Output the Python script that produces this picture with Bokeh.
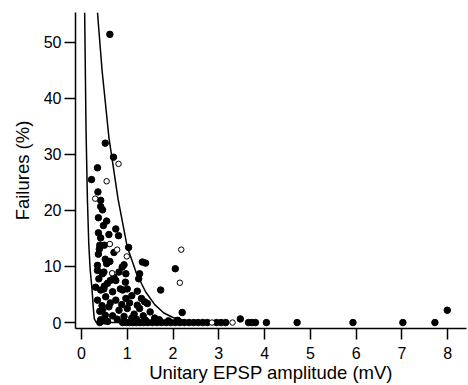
from bokeh.plotting import figure
from bokeh.models import Range1d, FixedTicker
from bokeh.embed import file_html
from bokeh.resources import INLINE

# Filled circles: EPSP amplitude (mV) vs failures (%)
filled_x = [0.62, 0.52, 0.70, 0.35, 0.22, 0.36, 0.42,
            0.42, 0.46, 0.37, 0.55, 0.48, 0.75, 0.37, 0.60, 0.81, 0.42, 0.40, 0.50, 0.39,
            0.71, 0.37, 0.62, 0.55, 0.35, 0.93,
            0.35, 0.46, 0.82, 0.97, 0.75, 0.57, 0.31, 0.42, 0.68, 0.90, 0.53, 0.35, 0.75,
            0.97, 0.60, 0.46, 0.82, 1.00, 0.68, 0.93, 0.42, 0.57,
            0.52, 0.56, 0.89, 0.49, 0.71, 0.63, 0.96, 0.49, 0.85, 0.38, 0.50, 0.63, 0.88,
            0.78, 0.40, 0.52, 0.45,
            1.03, 1.33, 1.40, 2.05, 1.27, 1.25, 1.73, 1.00, 1.22, 1.31, 1.38, 1.22, 1.44,
            1.27, 1.50, 2.20, 1.10, 1.15, 1.35, 1.60, 1.05, 1.20, 1.40, 1.70, 1.90, 2.10, 1.10,
            0.40, 0.50,
            0.90, 0.98, 1.05, 1.12, 1.20, 1.28, 1.36, 1.45, 1.55, 1.65, 1.75, 1.85, 1.95,
            2.05, 2.15, 2.25, 2.35, 2.45, 2.55, 2.65, 2.75, 2.95, 3.05, 3.15,
            3.47, 3.65, 3.72, 3.80, 4.04, 4.71, 5.93, 7.02, 7.72, 7.99]
filled_y = [51.4, 32.0, 29.5, 27.6, 25.5, 23.3, 21.8,
            20.7, 20.1, 18.7, 18.1, 17.3, 16.7, 16.0, 15.7, 15.5, 15.1, 13.8, 13.8, 13.1,
            12.5, 12.2, 10.9, 10.5, 10.2, 10.3,
            9.3, 8.7, 9.0, 8.7, 7.5, 7.0, 6.3, 5.8, 5.5, 5.8, 4.6, 4.0, 4.0,
            4.3, 2.8, 2.2, 2.2, 2.5, 1.2, 1.1, 0.5, 0.2,
            11.3, 10.7, 9.9, 9.0, 8.1, 7.5, 7.2, 6.0, 6.0, 7.8, 6.5, 3.5, 3.2,
            0.6, 2.0, 1.3, 3.0,
            13.4, 10.8, 10.6, 9.6, 8.7, 7.8, 5.8, 6.0, 5.6, 4.3, 3.7, 3.1, 3.4,
            2.5, 1.9, 1.8, 4.8, 1.5, 1.2, 0.8, 3.5, 0.6, 0.4, 0.5, 0.3, 0.4, 0.8,
            0.0, 0.3,
            0.0, 0.0, 0.0, 0.0, 0.0, 0.0, 0.0, 0.0, 0.0, 0.0, 0.0, 0.0, 0.0,
            0.0, 0.0, 0.0, 0.0, 0.0, 0.0, 0.0, 0.0, 0.0, 0.0, 0.0,
            0.65, 0.0, 0.0, 0.0, 0.0, 0.0, 0.0, 0.0, 0.0, 2.2]

# Open circles
open_x = [0.81, 0.55, 0.30, 0.62, 0.78, 0.99, 0.67, 2.18, 2.15, 2.85, 3.30]
open_y = [28.3, 25.2, 22.1, 14.0, 13.0, 11.8, 8.8, 13.0, 7.1, 0.0, 0.0]

# Bounding model curves
left_curve_x = [0.07, 0.10, 0.13, 0.16, 0.19, 0.23, 0.26, 0.28, 0.32, 0.40, 1.00]
left_curve_y = [55.3, 34.5, 22.0, 14.0, 9.5, 6.0, 2.5, 0.7, 0.05, 0.0, 0.0]
right_curve_x = [0.35, 0.45, 0.60, 0.80, 1.00, 1.20, 1.40, 1.60, 1.80, 2.00, 2.30, 2.60, 3.00]
right_curve_y = [55.3, 45.0, 33.0, 22.0, 13.5, 8.8, 5.5, 3.2, 1.7, 0.9, 0.3, 0.1, 0.0]

x_ticks = [0, 1, 2, 3, 4, 5, 6, 7, 8]
y_ticks = [0, 10, 20, 30, 40, 50]

FONT = "Liberation Sans"

p = figure(width=468, height=385, output_backend="svg", toolbar_location=None,
           x_range=Range1d(-0.13, 8.41), y_range=Range1d(-1.06, 55.3),
           min_border_left=75, min_border_top=12, min_border_bottom=53, min_border_right=2)
p.outline_line_color = None
p.xgrid.visible = False
p.ygrid.visible = False
p.background_fill_color = "white"

p.line(left_curve_x, left_curve_y, line_color="black", line_width=1.5)
p.line(right_curve_x, right_curve_y, line_color="black", line_width=1.5)
p.scatter(filled_x, filled_y, marker="circle", size=6.5, fill_color="black", line_color="black")
p.scatter(open_x, open_y, marker="circle", size=5.5, fill_color="white", line_color="black", line_width=1)

for ax in (p.xaxis[0], p.yaxis[0]):
    ax.major_tick_in = 0
    ax.major_tick_out = 11
    ax.minor_tick_in = 0
    ax.minor_tick_out = 0
    ax.axis_line_width = 1.5
    ax.major_tick_line_width = 1.5
    ax.major_label_text_font = FONT
    ax.major_label_text_font_size = "16px"
    ax.major_label_text_color = "black"
    ax.axis_label_text_font = FONT
    ax.axis_label_text_font_size = "18.5px"
    ax.axis_label_text_font_style = "normal"
    ax.axis_label_text_color = "black"

p.xaxis.ticker = FixedTicker(ticks=x_ticks)
p.yaxis.ticker = FixedTicker(ticks=y_ticks)
p.xaxis.axis_label = "Unitary EPSP amplitude (mV)"
p.yaxis.axis_label = "Failures (%)"
p.xaxis.major_label_standoff = 7
p.yaxis.major_label_standoff = 3
p.xaxis.axis_label_standoff = 0
p.yaxis.axis_label_standoff = 8

open("out.html", "w").write(file_html(p, INLINE))
